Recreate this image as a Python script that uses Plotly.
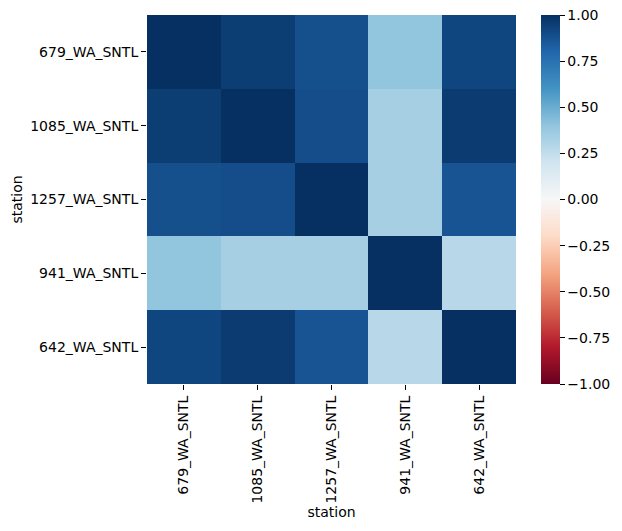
import plotly.graph_objects as go

stations = ["679_WA_SNTL", "1085_WA_SNTL", "1257_WA_SNTL", "941_WA_SNTL", "642_WA_SNTL"]
corr = [
    [1.00, 0.95, 0.885, 0.40, 0.92],
    [0.95, 1.00, 0.893, 0.335, 0.96],
    [0.885, 0.893, 1.00, 0.335, 0.867],
    [0.40, 0.335, 0.335, 1.00, 0.28],
    [0.92, 0.96, 0.867, 0.28, 1.00],
]
cbar_ticks = [-1.0, -0.75, -0.5, -0.25, 0.0, 0.25, 0.5, 0.75, 1.0]

rdbu = ["#67001f", "#b2182b", "#d6604d", "#f4a582", "#fddbc7", "#f7f7f7",
        "#d1e5f0", "#92c5de", "#4393c3", "#2166ac", "#053061"]
colorscale = [[i / 10, c] for i, c in enumerate(rdbu)]

W, H = 622, 531
L, R, T, B = 147, 105, 15, 147
pw = W - L - R
FS = 14

fig = go.Figure(go.Heatmap(
    z=corr, x=stations, y=stations,
    zmin=-1, zmax=1, colorscale=colorscale,
    xgap=0, ygap=0,
    colorbar=dict(
        x=(541 - L) / pw, xanchor="left", xref="paper", xpad=0,
        y=0.5, yanchor="middle", len=1.0, lenmode="fraction", ypad=0,
        thickness=19, outlinewidth=0,
        tickvals=cbar_ticks, tickformat=".2f",
        ticks="outside", ticklen=5, tickwidth=1, tickcolor="black",
        tickfont=dict(family="DejaVu Sans", size=FS, color="black"),
    ),
))

fig.update_layout(
    width=W, height=H,
    margin=dict(l=L, r=R, t=T, b=B),
    paper_bgcolor="white", plot_bgcolor="white",
    font=dict(family="DejaVu Sans", size=FS, color="black"),
    xaxis=dict(
        title=dict(text="station", font=dict(size=FS), standoff=4),
        tickangle=-90, ticks="outside", ticklen=5, tickwidth=1, tickcolor="black",
        showgrid=False, zeroline=False, showline=False,
    ),
    yaxis=dict(
        title=dict(text="station", font=dict(size=FS), standoff=4),
        autorange="reversed", ticks="outside", ticklen=5, tickwidth=1, tickcolor="black",
        showgrid=False, zeroline=False, showline=False,
    ),
)

fig.write_html("out.html")
